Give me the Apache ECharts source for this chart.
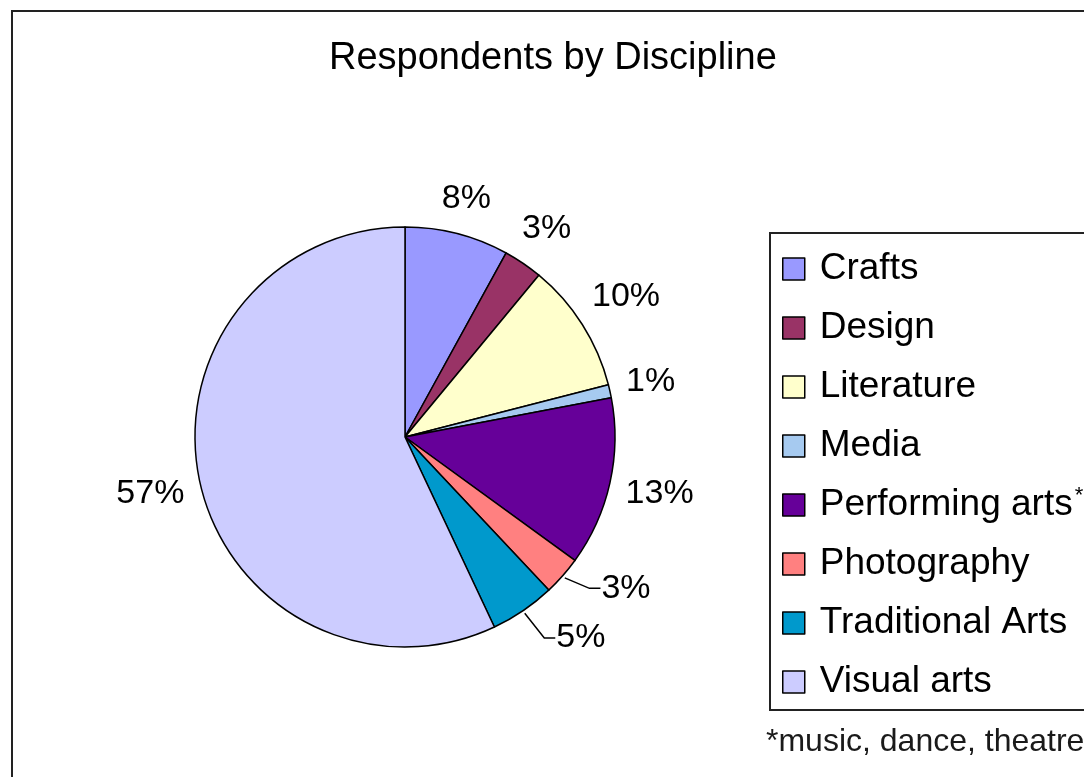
<!DOCTYPE html>
<html>
<head>
<meta charset="utf-8">
<script src="https://cdn.jsdelivr.net/npm/echarts@6/dist/echarts.min.js"></script>
<style>
  html, body { margin: 0; padding: 0; background: #fff; }
  #chart { width: 1084px; height: 777px; }
</style>
</head>
<body>
<div id="chart"></div>
<script>
// data (percent of respondents)
const categories = ["Crafts", "Design", "Literature", "Media", "Performing arts", "Photography", "Traditional Arts", "Visual arts"];
const values = [8, 3, 10, 1, 13, 3, 5, 57];
const colors = ["#9999FF", "#993366", "#FFFFCC", "#A6CAF0", "#660099", "#FF8080", "#0099CC", "#CCCCFF"];
const withLeader = [false, false, false, false, false, true, true, false];

const CX = 405, CY = 437, R = 210;
const FONT = "Liberation Sans, Arial, sans-serif";

const total = values.reduce((a, b) => a + b, 0);
const cum = [];
values.reduce((acc, v, i) => { cum[i] = acc; return acc + v; }, 0);

const chart = echarts.init(document.getElementById("chart"));

// excel-like placement: label box sits just outside the rim along the slice's mid angle
const placeLabel = (p) => {
  const i = p.dataIndex;
  let mid = (cum[i] + values[i] / 2) / total * 2 * Math.PI;
  const edge = [CX + (R + 3) * Math.sin(mid), CY - (R + 3) * Math.cos(mid)];
  if (withLeader[i]) mid -= 7 * Math.PI / 180; // leader labels get pushed round a bit
  const ux = Math.sin(mid), uy = -Math.cos(mid);
  const w = p.labelRect.width, h = p.labelRect.height;
  const gap = withLeader[i] ? 28 : 14;
  const d = R + gap + Math.abs(ux) * w / 2 + Math.abs(uy) * h / 2;
  const x = CX + d * ux, y = CY + d * uy;
  const res = { x: x, y: y, align: "center", verticalAlign: "middle" };
  if (withLeader[i]) {
    res.labelLinePoints = [edge, [x - w / 2 - 12, y], [x - w / 2 - 1, y]];
  }
  return res;
};

const option = {
  animation: false,
  backgroundColor: "#fff",
  title: {
    text: "Respondents by Discipline",
    left: 324,
    top: 35,
    textStyle: { fontFamily: FONT, fontSize: 38, fontWeight: "normal", color: "#000" }
  },
  graphic: [
    {
      type: "rect",
      shape: { x: 12, y: 11, width: 1200, height: 900 },
      style: { fill: "none", stroke: "#222", lineWidth: 2 },
      silent: true
    },
    {
      type: "rect",
      shape: { x: 770, y: 233, width: 400, height: 477 },
      style: { fill: "none", stroke: "#222", lineWidth: 2 },
      silent: true
    },
    {
      type: "text",
      left: 766,
      top: 726,
      style: { text: "*music, dance, theatre", fontFamily: FONT, fontSize: 32, fill: "#1a1a1a" }
    }
  ],
  legend: {
    orient: "vertical",
    left: 782,
    top: 249,
    padding: 0,
    itemWidth: 22,
    itemHeight: 22,
    itemGap: 19,
    icon: "rect",
    itemStyle: { borderColor: "#000", borderWidth: 1.5 },
    formatter: (name) => name === "Performing arts" ? "{n|" + name + "}{s|*}" : "{n|" + name + "}",
    textStyle: {
      color: "#000",
      fontFamily: FONT,
      fontSize: 37,
      lineHeight: 40,
      rich: {
        n: { fontFamily: FONT, fontSize: 37, lineHeight: 40, padding: [0, 0, 0, 10], color: "#000" },
        s: { fontFamily: FONT, fontSize: 22, lineHeight: 40, verticalAlign: "top", padding: [0, 0, 14, 2], color: "#000" }
      }
    },
    data: categories
  },
  series: [
    {
      type: "pie",
      center: [CX, CY],
      radius: R,
      startAngle: 90,
      clockwise: true,
      avoidLabelOverlap: false,
      color: colors,
      itemStyle: { borderColor: "#000", borderWidth: 1.5 },
      label: {
        show: true,
        position: "outside",
        formatter: "{d}%",
        fontFamily: FONT,
        fontSize: 34,
        color: "#000"
      },
      percentPrecision: 0,
      labelLine: { show: false, length: 10, length2: 10, lineStyle: { color: "#000", width: 1.5 } },
      labelLayout: placeLabel,
      emphasis: { disabled: true },
      data: categories.map((c, i) => ({
        name: c,
        value: values[i],
        labelLine: { show: withLeader[i] }
      }))
    }
  ]
};

chart.setOption(option);
</script>
</body>
</html>
